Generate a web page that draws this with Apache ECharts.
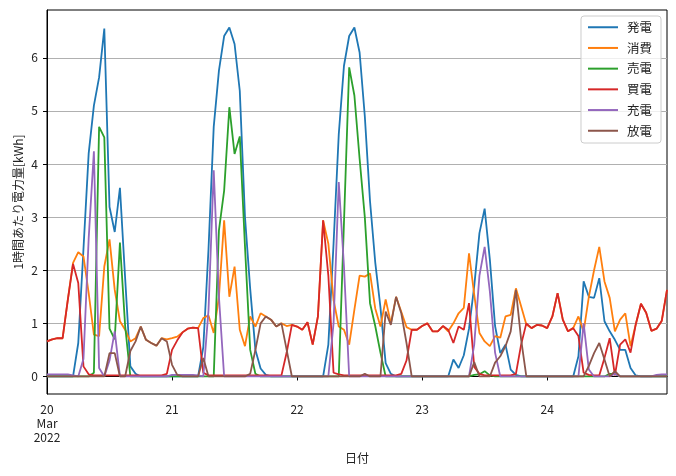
<!DOCTYPE html>
<html><head><meta charset="utf-8">
<script src="https://cdn.jsdelivr.net/npm/echarts@6/dist/echarts.min.js"></script>
<style>html,body{margin:0;padding:0;background:#fff}#c{width:676px;height:476px}</style>
</head><body><div id="c"></div>
<script>
const seriesNames = ['発電','消費','売電','買電','充電','放電'];
const xTickHours = [0,24,48,72,96];
const xTickLabels = ['20\nMar\n2022','21','22','23','24'];
const yTicks = [0,1,2,3,4,5,6];

// hourly values, 2022-03-20 00:00 .. 2022-03-24 23:00
const hatsuden = [
0,0,0,0,0,0,0.63,2.4,4.2,5.1,5.63,6.55,3.19,2.72,3.55,1.85,0.19,0.05,0,0,0,0,0,0,
0,0,0,0,0,0,0.55,2.4,4.7,5.76,6.41,6.57,6.26,5.38,3.0,1.65,0.5,0.15,0.03,0,0,0,0,0,
0,0,0,0,0,0,0.6,2.5,4.56,5.85,6.41,6.57,6.1,4.9,3.3,2.15,1.3,0.25,0.05,0,0,0,0,0,
0,0,0,0,0,0,0.32,0.16,0.4,0.9,1.7,2.7,3.16,2.2,0.95,0.44,0.6,0.13,0.03,0,0,0,0,0,
0,0,0,0,0,0,0.38,1.79,1.5,1.48,1.85,1.04,0.85,0.69,0.5,0.5,0.16,0.02,0,0,0,0,0,0];
const shouhi = [
0.66,0.7,0.72,0.72,1.45,2.14,2.34,2.26,1.57,0.79,0.76,2.07,2.58,1.63,1.04,0.88,0.66,0.72,0.94,0.69,0.63,0.58,0.72,0.7,
0.72,0.75,0.83,0.9,0.92,0.91,1.1,1.15,0.82,1.5,2.94,1.5,2.07,0.88,0.57,1.13,0.94,1.19,1.13,1.07,0.94,1.0,0.95,0.97,
0.94,0.88,1.02,0.6,1.13,2.94,2.5,1.44,0.94,0.88,0.6,1.26,1.9,1.88,1.94,1.28,0.94,1.45,1.0,1.5,1.22,0.93,0.88,0.88,
0.95,1.0,0.85,0.85,0.95,0.85,1.0,1.19,1.29,2.32,1.54,0.82,0.66,0.57,0.76,0.73,1.13,1.16,1.66,1.32,0.98,0.91,0.97,0.96,
0.91,1.13,1.57,1.07,0.85,0.91,1.13,0.85,1.5,2.0,2.44,1.79,1.48,0.85,1.07,1.19,0.57,0.98,1.37,1.2,0.86,0.9,1.05,1.63];
const baiden = [
0,0,0,0,0,0,0,0,0,0.07,4.7,4.5,0.9,0.7,2.52,0.95,0,0,0,0,0,0,0,0,
0,0,0,0,0,0,0,0,0,2.75,3.5,5.07,4.19,4.52,2.45,0.5,0.05,0,0,0,0,0,0,0,
0,0,0,0,0,0,0,0,0,2.9,5.82,5.29,4.1,3.0,1.38,0.95,0.45,0,0,0,0,0,0,0,
0,0,0,0,0,0,0,0,0,0,0.03,0.04,0.1,0.02,0,0,0,0,0,0,0,0,0,0,
0,0,0,0,0,0,0,0,0,0,0,0,0.05,0.05,0,0,0,0,0,0,0,0,0,0];
const kaiden = [
0.66,0.7,0.72,0.72,1.44,2.12,1.76,0.19,0.04,0.02,0.02,0.02,0.02,0.02,0.02,0.02,0.02,0.02,0.02,0.02,0.02,0.02,0.02,0.05,
0.5,0.68,0.83,0.9,0.92,0.91,0.07,0.02,0.02,0.02,0.02,0.02,0.02,0.02,0.02,0.02,0.02,0.02,0.02,0.02,0.02,0.02,0.45,0.97,
0.94,0.88,1.02,0.6,1.13,2.94,1.9,0.07,0.04,0.02,0.02,0.02,0.02,0.02,0.02,0.02,0.02,0.02,0.02,0.02,0.05,0.3,0.88,0.88,
0.95,1.0,0.85,0.85,0.95,0.88,0.63,0.94,0.88,1.38,0.18,0.05,0.02,0.02,0.02,0.02,0.02,0.02,0.05,0.6,1.0,0.91,0.97,0.96,
0.91,1.13,1.57,1.07,0.85,0.91,0.76,0.07,0.03,0.02,0.02,0.35,0.72,0.02,0.6,0.7,0.45,0.98,1.37,1.2,0.86,0.9,1.05,1.63];
const juuden = [
0.04,0.04,0.04,0.04,0.04,0.02,0,0.33,2.6,4.24,0.16,0,0.3,0.85,0,0,0,0,0,0,0,0,0,0,
0.03,0.03,0.03,0.03,0.03,0.02,0,1.25,3.88,1.5,0,0,0,0,0,0,0,0,0,0,0,0,0,0,
0,0,0,0,0,0,0,1.0,3.66,2.07,0,0,0,0,0,0,0,0,0,0,0,0,0,0,
0,0,0,0,0,0,0,0,0,0,0.6,1.9,2.44,1.6,0.45,0,0,0,0,0,0,0,0,0,
0,0,0,0,0,0,0,1.0,0.13,0,0,0,0,0.05,0,0,0,0,0,0,0,0.03,0.04,0.04];
const houden = [
0,0,0,0,0,0,0,0,0,0,0,0,0.44,0.44,0,0,0.48,0.66,0.94,0.69,0.63,0.58,0.72,0.66,
0.22,0.03,0,0,0,0,0.35,0,0,0,0,0,0,0,0,0.05,0.5,1.0,1.13,1.07,0.94,1.0,0.5,0,
0,0,0,0,0,0,0,0,0,0,0,0,0,0.05,0,0,0,1.22,0.97,1.5,1.19,0.63,0,0,
0,0,0,0,0,0,0,0,0,0,0.27,0,0,0,0.26,0.38,0.57,0.85,1.63,0.7,0,0,0,0,
0,0,0,0,0,0,0,0,0.2,0.44,0.63,0.32,0,0.1,0,0,0,0,0,0,0,0,0,0];

const colors = ['#1f77b4','#ff7f0e','#2ca02c','#d62728','#9467bd','#8c564b'];
const allSeries = [hatsuden, shouhi, baiden, kaiden, juuden, houden];
const FONT = '"Noto Sans CJK JP", sans-serif';

const chart = echarts.init(document.getElementById('c'));
chart.setOption({
  animation: false,
  grid: {left: 47, right: 9, top: 10, bottom: 82, show: true, borderColor: '#000', borderWidth: 1, backgroundColor: 'transparent'},
  legend: {
    orient: 'vertical', right: 15, top: 16, data: seriesNames,
    backgroundColor: 'rgba(255,255,255,0.8)', borderColor: '#cccccc', borderWidth: 1, borderRadius: 3,
    padding: [5, 9, 6, 6], itemWidth: 30, itemHeight: 14, itemGap: 8.2,
    itemStyle: {opacity: 0, color: 'transparent', borderWidth: 0},
    textStyle: {fontSize: 12.5, fontFamily: FONT, color: '#222', padding: [0, 0, 0, 4]}
  },
  xAxis: {
    type: 'value', min: 0, max: 119,
    axisLine: {show: true, lineStyle: {color: '#000', width: 1}},
    axisTick: {show: true, length: 4, customValues: xTickHours, lineStyle: {color: '#000'}},
    splitLine: {show: false},
    axisLabel: {customValues: xTickHours, color: '#222', fontSize: 12, fontFamily: FONT, lineHeight: 14, margin: 8,
      formatter: v => xTickLabels[xTickHours.indexOf(v)] || ''},
    name: '日付', nameLocation: 'middle', nameGap: 58,
    nameTextStyle: {fontSize: 12, fontFamily: FONT, color: '#222'}
  },
  yAxis: {
    type: 'value', min: -0.33, max: 6.9,
    axisLine: {show: true, lineStyle: {color: '#000', width: 1}},
    axisTick: {show: true, length: 4, customValues: yTicks, lineStyle: {color: '#000'}},
    axisLabel: {customValues: yTicks, color: '#222', fontSize: 12, fontFamily: FONT, margin: 9},
    splitLine: {show: true, lineStyle: {color: '#b0b0b0', width: 1}},
    name: '1時間あたり電力量[kWh]', nameLocation: 'middle', nameGap: 23, nameRotate: 90, nameMoveOverlap: false,
    nameTextStyle: {fontSize: 12, fontFamily: FONT, color: '#222'}
  },
  series: allSeries.map((d, i) => ({
    name: seriesNames[i], type: 'line', data: d.map((v, j) => [j, v]),
    showSymbol: false, symbol: 'none',
    lineStyle: {width: 1.8, color: colors[i]}, itemStyle: {color: colors[i]}
  }))
});
</script></body></html>
